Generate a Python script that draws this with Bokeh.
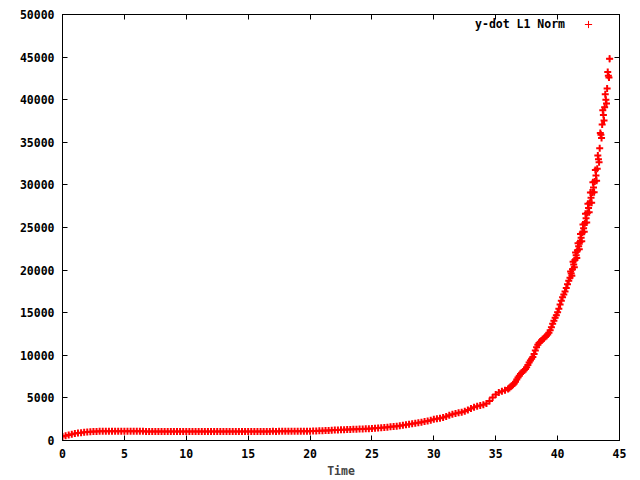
from bokeh.plotting import figure
from bokeh.models import (Range1d, LinearAxis, FixedTicker, Label, Legend, LegendItem,
                          ColumnDataSource, CustomLabelingPolicy)
from bokeh.embed import file_html
from bokeh.resources import INLINE

# ---- data (time, y-dot L1 norm) ----
time_a = [0.0, 0.25, 0.5, 0.75, 1.0, 1.25, 1.5, 1.75, 2.0, 2.25, 2.5, 2.75, 3.0,
          3.25, 3.5, 3.75, 4.0, 4.25, 4.5, 4.75, 5.0, 5.25, 5.5, 5.75, 6.0, 6.25, 6.5,
          6.75, 7.0, 7.25, 7.5, 7.75, 8.0, 8.25, 8.5, 8.75, 9.0, 9.25, 9.5, 9.75, 10.0,
          10.25, 10.5, 10.75, 11.0, 11.25, 11.5, 11.75, 12.0, 12.25, 12.5, 12.75, 13.0,
          13.25, 13.5, 13.75, 14.0, 14.25, 14.5, 14.75, 15.0, 15.25, 15.5, 15.75, 16.0,
          16.25, 16.5, 16.75, 17.0, 17.25, 17.5, 17.75, 18.0, 18.25, 18.5, 18.75, 19.0,
          19.25, 19.5, 19.75, 20.0,
          20.25, 20.5, 20.75, 21.0, 21.25, 21.5, 21.75, 22.0, 22.25, 22.5, 22.75, 23.0,
          23.25, 23.5, 23.75, 24.0, 24.25, 24.5, 24.75, 25.0, 25.25, 25.5, 25.75, 26.0,
          26.25, 26.5, 26.75, 27.0, 27.25, 27.5, 27.75, 28.0, 28.25, 28.5, 28.75, 29.0,
          29.25, 29.5, 29.75, 30.0, 30.25, 30.5, 30.75, 31.0, 31.25, 31.5, 31.75, 32.0,
          32.25, 32.5, 32.75, 33.0, 33.25, 33.5, 33.75, 34.0, 34.25, 34.5, 34.75, 35.0,
          35.25, 35.5, 35.75]
norm_a = [470, 560, 650, 740, 810, 870, 920, 960, 1000, 1030, 1050, 1070, 1080,
          1090, 1095, 1090, 1100, 1095, 1090, 1100, 1095, 1090, 1100, 1095, 1090, 1095, 1090,
          1060, 1055, 1050, 1060, 1055, 1050, 1045, 1055, 1050, 1060, 1050, 1055, 1050, 1045,
          1055, 1050, 1060, 1050, 1055, 1045, 1050, 1060, 1055, 1050, 1045, 1055,
          1050, 1060, 1050, 1055, 1050, 1060, 1055, 1050, 1060, 1055, 1065, 1060,
          1070, 1065, 1070, 1075, 1070, 1080, 1075, 1080, 1085, 1080, 1090, 1095,
          1090, 1100, 1095, 1100,
          1110, 1120, 1130, 1150, 1160, 1180, 1200, 1220, 1240, 1250, 1270, 1280,
          1300, 1310, 1330, 1340, 1360, 1370, 1390, 1400, 1430, 1460, 1490, 1520,
          1560, 1600, 1640, 1680, 1740, 1800, 1850, 1900, 1960, 2020, 2080, 2150,
          2220, 2300, 2380, 2480, 2550, 2600, 2700, 2820, 2950, 3080, 3180, 3250,
          3320, 3420, 3580, 3760, 3900, 4020, 4120, 4200, 4350, 4650, 5050, 5400,
          5620, 5780, 5900]

time_b = [36.0, 36.1, 36.2, 36.3, 36.4, 36.5, 36.6, 36.7, 36.8, 36.9,
          37.0, 37.1, 37.2, 37.3, 37.4, 37.5, 37.6, 37.7, 37.8, 37.9,
          38.0, 38.1, 38.2, 38.3, 38.4, 38.5, 38.6, 38.7, 38.8, 38.9,
          39.0, 39.1, 39.2, 39.3, 39.4, 39.5, 39.6, 39.7, 39.8, 39.9,
          40.0, 40.1, 40.2, 40.3, 40.4, 40.5, 40.6, 40.7, 40.8, 40.9,
          41.0, 41.1, 41.2, 41.3, 41.4, 41.5, 41.6, 41.7, 41.8, 41.9,
          42.0, 42.1, 42.2, 42.3, 42.4, 42.5, 42.6, 42.7, 42.8, 42.9,
          43.0, 43.1, 43.2, 43.3, 43.4, 43.5, 43.6, 43.7, 43.8, 43.9,
          44.0, 44.1, 44.2]
norm_b = [6050, 6150, 6300, 6420, 6550, 6700, 6900, 7150, 7400, 7600,
          7800, 7950, 8100, 8250, 8400, 8600, 8850, 9150, 9400, 9600,
          9800, 10150, 10550, 10950, 11250, 11450, 11600, 11750, 11900, 12000,
          12150, 12300, 12450, 12650, 12950, 13300, 13700, 14050, 14400, 14700,
          15050, 15450, 15950, 16400, 16800, 17150, 17500, 17900, 18350, 18750,
          19100, 19600, 20100, 20650, 21200, 21750, 22300, 22800, 23300, 23800,
          24400, 24900, 25500, 26100, 26700, 27300, 27900, 28500, 29100, 29700,
          30400, 31100, 31900, 33000, 34300, 35900, 37100, 38200, 39100, 40000,
          41300, 42800, 44800]

# scattered samples in the noisy steep part (the band widens there)
time_c = [41.05, 41.15, 41.25, 41.35, 41.45, 41.55, 41.65, 41.75, 41.85, 41.95,
          42.05, 42.15, 42.25, 42.35, 42.45, 42.55, 42.65, 42.75, 42.85, 42.95,
          43.05, 43.15, 43.25, 43.35, 43.45, 43.55, 43.65, 43.75, 43.85, 43.95,
          44.05, 44.15]
norm_c = [19850, 19350, 20975, 20325, 22075, 21425, 23150, 22450, 24250, 23400,
          25350, 24500, 26600, 25600, 27800, 26800, 29100, 27900, 30300, 29150,
          31750, 30500, 33450, 32650, 36100, 35500, 38750, 37550, 40650, 39550,
          43250, 42600]

x_ticks = [0, 5, 10, 15, 20, 25, 30, 35, 40, 45]
y_ticks = [0, 5000, 10000, 15000, 20000, 25000, 30000, 35000, 40000, 45000, 50000]
series_label = "y-dot L1 Norm"
x_label = "Time"

FONT = "DejaVu Sans Mono"
FS = "11.5px"

p = figure(width=632, height=480, x_range=Range1d(0, 45), y_range=Range1d(0, 50000),
           output_backend="svg", toolbar_location=None,
           min_border_left=62, min_border_right=13, min_border_top=14, min_border_bottom=40)
p.xgrid.visible = False
p.ygrid.visible = False
p.outline_line_color = "black"
p.background_fill_color = "white"
p.border_fill_color = "white"

src = ColumnDataSource(data=dict(t=time_a + time_b + time_c, v=norm_a + norm_b + norm_c))
r = p.scatter("t", "v", source=src, marker="cross", size=7, line_color="#ff0000",
              line_width=2)

hide_all = CustomLabelingPolicy(code="return new Set()")

def style_axis(ax, ticks, labels=True):
    ax.ticker = FixedTicker(ticks=ticks)
    ax.minor_tick_line_color = None
    ax.major_tick_in = 5
    ax.major_tick_out = 0
    ax.axis_line_color = "black"
    ax.major_tick_line_color = "black"
    ax.major_label_text_font = FONT
    ax.major_label_text_font_style = "bold"
    ax.major_label_text_font_size = FS
    ax.major_label_text_color = "black"
    if not labels:
        ax.major_label_policy = hide_all
        ax.major_label_standoff = 0
        ax.major_label_text_font_size = "1px"

style_axis(p.xaxis[0], x_ticks)
style_axis(p.yaxis[0], y_ticks)
p.xaxis[0].major_label_standoff = 8
p.yaxis[0].major_label_standoff = 8
p.xaxis[0].axis_label = x_label
p.xaxis[0].axis_label_text_font = FONT
p.xaxis[0].axis_label_text_font_style = "bold"
p.xaxis[0].axis_label_text_font_size = FS
p.xaxis[0].axis_label_standoff = 3

top_ax = LinearAxis()
style_axis(top_ax, x_ticks, labels=False)
p.add_layout(top_ax, "above")
right_ax = LinearAxis()
style_axis(right_ax, y_ticks, labels=False)
p.add_layout(right_ax, "right")

# legend: text right-aligned, sample marker to its right (gnuplot style)
p.add_layout(Label(x=40.6, y=48830, text=series_label, text_align="right",
                   text_baseline="middle", text_font=FONT, text_font_style="bold",
                   text_font_size=FS, text_color="black"))
# key glyph sits under the last data marker; it only feeds the legend sample
key = p.scatter(x=[time_b[-1]], y=[norm_b[-1]], marker="cross", size=7,
                line_color="#ff0000", line_width=1)
legend = Legend(items=[LegendItem(label=" ", renderers=[key], index=0)],
                location=(517, 407),
                padding=0, margin=0, spacing=0, glyph_width=18, glyph_height=18,
                label_height=7, label_width=1, label_standoff=0, label_text_font_size="1px",
                border_line_alpha=0, background_fill_alpha=0)
p.add_layout(legend, "center")

open("out.html", "w").write(file_html(p, INLINE))
